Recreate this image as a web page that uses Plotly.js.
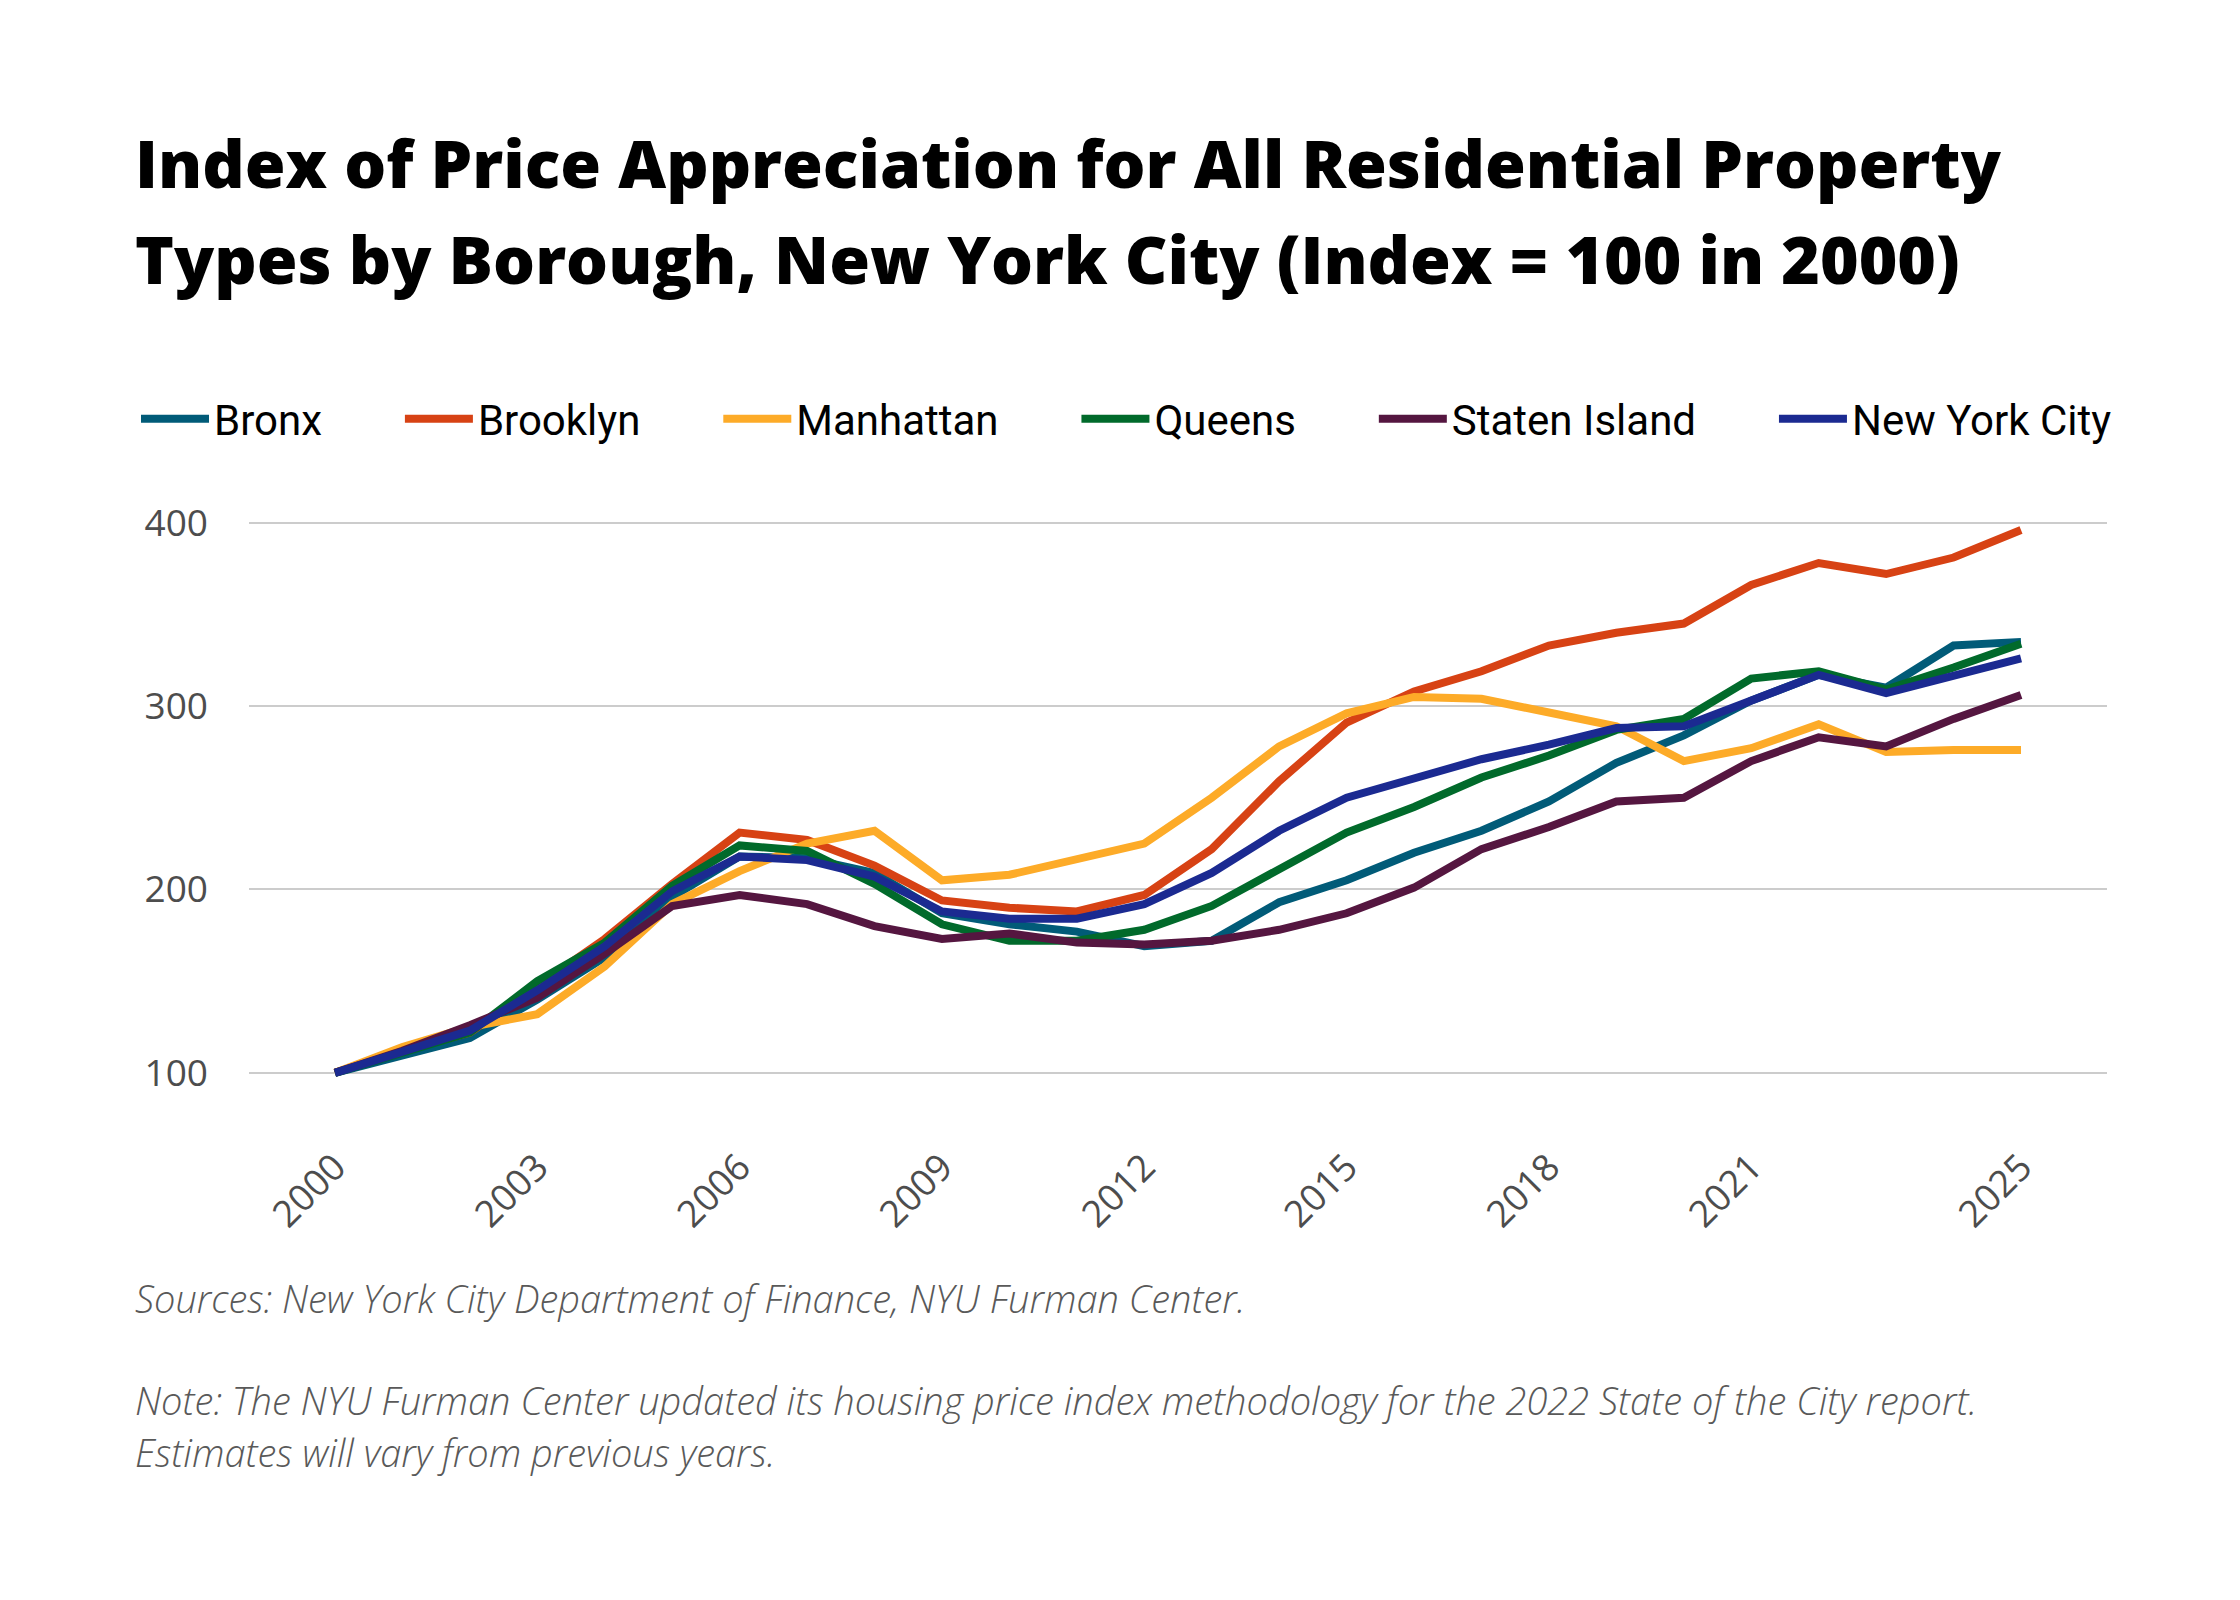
<!DOCTYPE html>
<html>
<head>
<meta charset="utf-8">
<script src="https://cdn.plot.ly/plotly-3.0.1.min.js"></script>
<style>
  html, body { margin: 0; padding: 0; background: #ffffff; }
  #chart { width: 2240px; height: 1600px; }
</style>
</head>
<body>
<div id="chart"></div>
<script>
// years on the x axis
const years = [2000, 2001, 2002, 2003, 2004, 2005, 2006, 2007, 2008, 2009, 2010, 2011, 2012,
               2013, 2014, 2015, 2016, 2017, 2018, 2019, 2020, 2021, 2022, 2023, 2024, 2025];

// index values (2000 = 100)
const bronx        = [100, 110, 119, 140, 163, 196, 218, 217, 209, 187, 181, 177, 169,
                      172, 193, 205, 220, 232, 248, 269, 284, 303, 317, 310, 333, 335];
const brooklyn     = [100, 112, 122, 147, 173, 203, 231, 227, 213, 194, 190, 188, 197,
                      222, 259, 291, 308, 319, 333, 340, 345, 366, 378, 372, 381, 396];
const manhattan    = [100, 114, 125, 132, 158, 192, 210, 225, 232, 205, 208, 216, 225,
                      250, 278, 296, 305, 304, 297, 289, 270, 277, 290, 275, 276, 276];
const queens       = [100, 111, 122, 150, 171, 202, 224, 221, 203, 181, 172, 172, 178,
                      191, 211, 231, 245, 261, 273, 287, 293, 315, 319, 309, 321, 334];
const statenIsland = [100, 112, 126, 141, 165, 191, 197, 192, 180, 173, 176, 171, 170,
                      172, 178, 187, 201, 222, 234, 248, 250, 270, 283, 278, 293, 306];
const newYorkCity  = [100, 111, 123, 145, 169, 199, 218, 216, 207, 188, 184, 184, 192,
                      209, 232, 250, 260, 271, 279, 288, 289, 303, 317, 307, 316, 326];

// tick labels
const xTickVals = [2000, 2003, 2006, 2009, 2012, 2015, 2018, 2021, 2025];
const xTickText = ['2000', '2003', '2006', '2009', '2012', '2015', '2018', '2021', '2025'];
const yTickVals = [100, 200, 300, 400];

const names  = ['Bronx', 'Brooklyn', 'Manhattan', 'Queens', 'Staten Island', 'New York City'];
const series = [bronx, brooklyn, manhattan, queens, statenIsland, newYorkCity];
const colors = ['#015b78', '#d74214', '#fdab28', '#016a2b', '#551640', '#1b2a91'];

// trailing no-break spaces widen the gap between legend entries
const LEGEND_PAD = '\u00a0\u00a0\u00a0\u00a0\u00a0\u00a0\u00a0';

let data = [];
for (let i = 0; i < names.length; i++) {
    data.push({
        x: years,
        y: series[i],
        name: i < names.length - 1 ? names[i] + LEGEND_PAD : names[i],
        type: 'scatter',
        mode: 'lines',
        line: { color: colors[i], width: 8 },
        hoverinfo: 'skip'
    });
}

// plot area in pixels: left 249, right 2107, top 486, bottom 1137
const PLOT_L = 249, PLOT_T = 486, PLOT_W = 1858, PLOT_H = 651;
function px(x) { return (x - PLOT_L) / PLOT_W; }
function py(y) { return (PLOT_T + PLOT_H - y) / PLOT_H; }

const noteFont = { family: 'Open Sans, sans-serif', size: 38, color: '#595959', style: 'italic', weight: 300 };
const titleFont = { family: 'Open Sans, sans-serif', size: 66, color: '#000000', weight: 800 };
const tickFont = { family: 'Open Sans, sans-serif', size: 37, color: '#4d4d4d' };

let layout = {
    width: 2240,
    height: 1600,
    paper_bgcolor: '#ffffff',
    plot_bgcolor: '#ffffff',
    margin: { l: PLOT_L, r: 2240 - PLOT_L - PLOT_W, t: PLOT_T, b: 1600 - PLOT_T - PLOT_H, pad: 0 },
    showlegend: true,
    legend: {
        orientation: 'h',
        x: px(136),
        xanchor: 'left',
        y: py(419),
        yanchor: 'middle',
        font: { family: 'Roboto, sans-serif', size: 42, color: '#000000' },
        itemwidth: 68,
        bgcolor: 'rgba(0,0,0,0)'
    },
    xaxis: {
        range: [1998.725, 2026.275],
        tickvals: xTickVals,
        ticktext: xTickText,
        tickangle: -45,
        showgrid: false,
        zeroline: false,
        showline: false,
        ticks: '',
        tickfont: tickFont
    },
    yaxis: {
        range: [65, 420],
        tickvals: yTickVals,
        showgrid: true,
        gridcolor: '#cccccc',
        gridwidth: 2,
        zeroline: false,
        showline: false,
        ticks: '',
        ticklabelstandoff: 40,
        tickfont: tickFont
    },
    annotations: [
        { text: 'Index of Price Appreciation for All Residential Property', x: px(133), y: py(162),
          xref: 'paper', yref: 'paper', xanchor: 'left', yanchor: 'middle', showarrow: false, font: titleFont },
        { text: 'Types by Borough, New York City (Index = 100 in 2000)', x: px(133), y: py(258),
          xref: 'paper', yref: 'paper', xanchor: 'left', yanchor: 'middle', showarrow: false, font: titleFont },
        { text: 'Sources: New York City Department of Finance, NYU Furman Center.', x: px(133), y: py(1298),
          xref: 'paper', yref: 'paper', xanchor: 'left', yanchor: 'middle', showarrow: false, font: noteFont },
        { text: 'Note: The NYU Furman Center updated its housing price index methodology for the 2022 State of the City report.',
          x: px(133), y: py(1400),
          xref: 'paper', yref: 'paper', xanchor: 'left', yanchor: 'middle', showarrow: false, font: noteFont },
        { text: 'Estimates will vary from previous years.', x: px(133), y: py(1452),
          xref: 'paper', yref: 'paper', xanchor: 'left', yanchor: 'middle', showarrow: false, font: noteFont }
    ]
};

Plotly.newPlot('chart', data, layout, { displayModeBar: false, staticPlot: true });
</script>
</body>
</html>
